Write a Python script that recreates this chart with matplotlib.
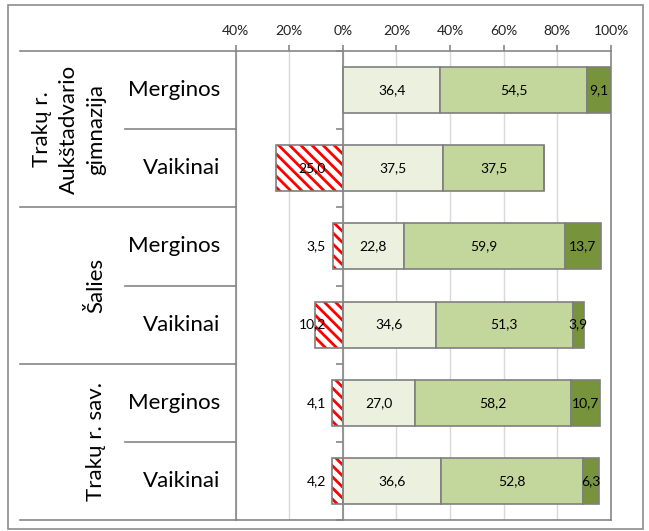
import matplotlib.pyplot as plt
from matplotlib.patches import Rectangle

# data
groups = ["Trakų r.\nAukštadvario\ngimnazija", "Šalies", "Trakų r. sav."]
rows = ["Merginos", "Vaikinai", "Merginos", "Vaikinai", "Merginos", "Vaikinai"]
neg = [0, 25.0, 3.5, 10.2, 4.1, 4.2]
light = [36.4, 37.5, 22.8, 34.6, 27.0, 36.6]
mid = [54.5, 37.5, 59.9, 51.3, 58.2, 52.8]
dark = [9.1, 0, 13.7, 3.9, 10.7, 6.3]
xticks = [-40, -20, 0, 20, 40, 60, 80, 100]
xticklabels = ["40%", "20%", "0%", "20%", "40%", "60%", "80%", "100%"]

W, H = 649, 531
LINE = "#868686"
EDGE = "#7F7F7F"


def fx(px):
    return px / W


def fy(py):
    return 1 - py / H


def fmt(v):
    return f"{v:.1f}".replace(".", ",")


def main():
    plt.rcParams["font.family"] = ["Lato", "DejaVu Sans"]
    plt.rcParams["hatch.linewidth"] = 2.0

    fig = plt.figure(figsize=(W / 100, H / 100), dpi=100)

    # outer frame
    fig.patches.append(Rectangle((fx(8), fy(529)), fx(643) - fx(8), fy(5) - fy(529),
                                 transform=fig.transFigure, fill=False,
                                 edgecolor="#8C8C8C", linewidth=1.2))

    x0, x1, y0, y1 = 235.5, 611, 51, 520
    ax = fig.add_axes([fx(x0), fy(y1), fx(x1) - fx(x0), fy(y0) - fy(y1)])
    lab = fig.add_axes([fx(20), fy(y1), fx(x0) - fx(20), fy(y0) - fy(y1)])

    n = len(rows)
    ys = [i + 0.5 for i in range(n)]
    h = 0.59

    # negative hatched part
    negl = [-v for v in neg]
    ax.barh(ys, negl, left=0, height=h, color="white", edgecolor="#FF0000",
            hatch="\\\\\\", linewidth=0, zorder=2)
    ax.barh(ys, negl, left=0, height=h, fill=False, edgecolor=EDGE,
            linewidth=1.2, zorder=3)

    left = [0] * n
    for vals, col in [(light, "#EBF1DE"), (mid, "#C3D69B"), (dark, "#77933C")]:
        ax.barh(ys, vals, left=left, height=h, color=col, edgecolor=EDGE,
                linewidth=1.2, zorder=3)
        for y, l, v in zip(ys, left, vals):
            if v > 0:
                ax.text(l + v / 2, y, fmt(v), ha="center", va="center",
                        fontsize=10, color="black", zorder=4)
        left = [a + b for a, b in zip(left, vals)]

    for y, v in zip(ys, neg):
        if v > 0:
            ax.annotate(fmt(v), xy=(0, y), xytext=(-12, 0), textcoords="offset points",
                        ha="right", va="center", fontsize=10, color="black", zorder=4)

    ax.set_xlim(-40, 100)
    ax.set_ylim(n, 0)
    ax.set_xticks(xticks)
    ax.set_xticklabels(xticklabels)
    ax.xaxis.tick_top()
    ax.tick_params(axis="x", direction="out", length=4, width=1.2, color=LINE,
                   labelsize=10, pad=6, labelcolor="#222222")
    ax.set_yticks(range(n + 1))
    ax.set_yticklabels([])
    ax.tick_params(axis="y", direction="out", length=5, width=1.2, color=LINE)
    ax.spines["left"].set_position(("data", 0))
    ax.spines["left"].set_zorder(5)
    for s in ax.spines.values():
        s.set_color(LINE)
        s.set_linewidth(1.2)
    ax.grid(axis="x", color="#D9D9D9", linewidth=1)
    ax.set_axisbelow(True)

    # category label area
    lab.set_xlim(20, x0)
    lab.set_ylim(n, 0)
    lab.axis("off")
    lab.plot([x0, x0], [0, n], color=LINE, linewidth=1.2, clip_on=False)
    for k in range(0, n + 1, 2):
        lab.plot([20, x0], [k, k], color=LINE, linewidth=1.2, clip_on=False)
    for k in range(1, n, 2):
        lab.plot([125, x0], [k, k], color=LINE, linewidth=1.2, clip_on=False)
    for y, r in zip(ys, rows):
        lab.text(220, y, r, ha="right", va="center", fontsize=16, color="black")
    for g, name in enumerate(groups):
        lab.text(106, 2 * g + 1, name, rotation=90, ha="right", va="center",
                 multialignment="center", fontsize=16, color="black",
                 linespacing=1.45)

    fig.savefig("out.png", dpi=100)
    plt.close(fig)


if __name__ == "__main__":
    main()
